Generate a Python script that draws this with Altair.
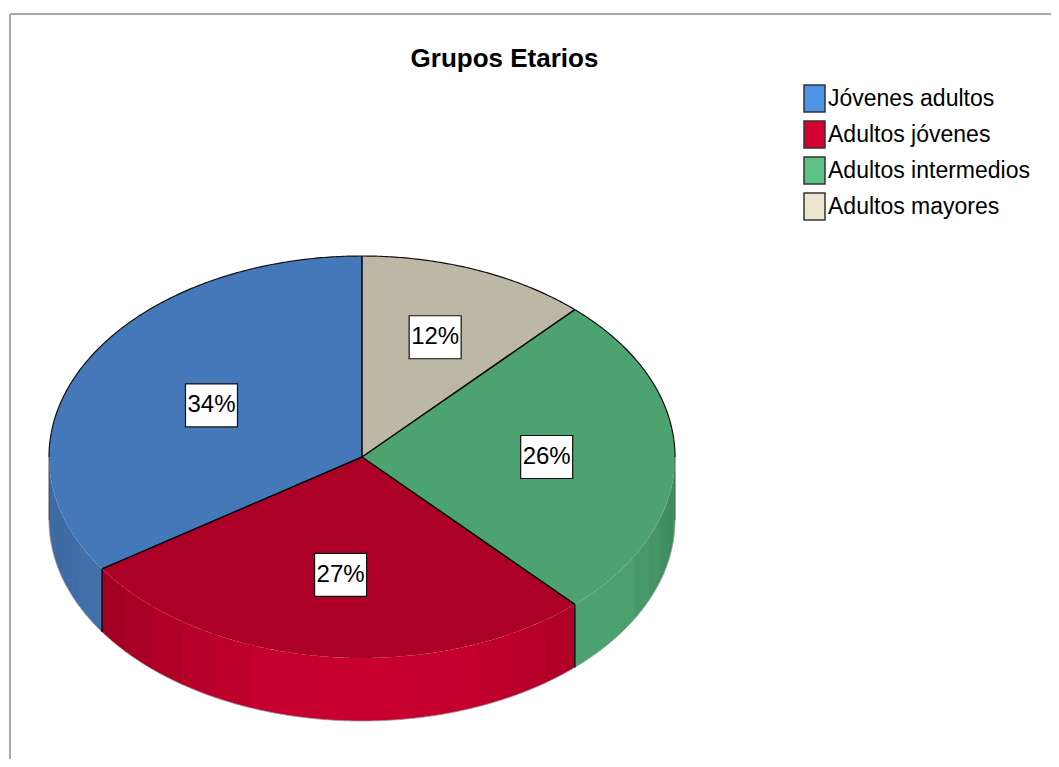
import numpy as np
import pandas as pd
import altair as alt

# --- values (clockwise from 12 o'clock) ---
slice_names = ["Adultos mayores", "Adultos intermedios", "Adultos jóvenes", "Jóvenes adultos"]
slice_values = [11.9, 26.2, 27.5, 34.4]
slice_labels = ["12%", "26%", "27%", "34%"]
slice_colors = ["#bdb7a5", "#4ca36f", "#ac0027", "#4478b9"]
label_reach = [0.64, 0.59, 0.59, 0.545]

legend_names = ["Jóvenes adultos", "Adultos jóvenes", "Adultos intermedios", "Adultos mayores"]
legend_colors = ["#4f93e6", "#d50032", "#5cc285", "#ece5d0"]

wall_shades = [
    [],
    ["#3d8a5d", "#3e8b5e", "#418e60", "#449465", "#48996a", "#4ba06d", "#4ca36f", "#4ca36f"],
    ["#b10028", "#b8002a", "#bf002c", "#c3002e", "#c6002f", "#c7002f", "#c7002f", "#c6002f",
     "#c3002e", "#bd002c", "#b7002a", "#b00027", "#a90025", "#a20023"],
    ["#4170ab", "#3f6ca6", "#3e6aa2", "#3d689d"],
]

TITLE = "Grupos Etarios"
W, H = 1043, 751
CX, CY, RX, RY, DEPTH = 362, 457, 313, 201, 63
FONT = "Liberation Sans"

def pt(deg, r=1.0, drop=0.0):
    a = np.radians(deg)
    return CX + RX * r * np.sin(a), CY - RY * r * np.cos(a) + drop

def spans(xs_poly, ys_poly):
    xs = np.unique(np.round(xs_poly, 3))
    rows = []
    n = len(xs_poly)
    for x in xs:
        hits = []
        for i in range(n):
            x1, y1, x2, y2 = xs_poly[i], ys_poly[i], xs_poly[(i + 1) % n], ys_poly[(i + 1) % n]
            lo, hi = min(x1, x2), max(x1, x2)
            if lo - 1e-3 <= x <= hi + 1e-3:
                if hi - lo < 1e-6:
                    hits += [y1, y2]
                else:
                    hits.append(y1 + (y2 - y1) * (x - x1) / (x2 - x1))
        rows.append((x, min(hits), max(hits)))
    return rows

edges = np.cumsum([0] + slice_values) * 3.6

area_rows, line_rows, label_rows = [], [], []
pid = 0

def add_line(pts, color, width):
    global pid
    for i, (x, y) in enumerate(pts):
        line_rows.append(dict(x=x, y=y, path=pid, i=i, stroke=color, w=width))
    pid += 1

# rim of the disc, one band per listed shade; neighbours overlap a little to hide seams
band = 0
for k, shades in enumerate(wall_shades):
    a0, a1 = max(edges[k], 90), min(edges[k + 1], 270)
    if not shades or a1 <= a0:
        continue
    cuts = np.linspace(a0, a1, len(shades) + 1)
    for j, shade in enumerate(shades):
        end = min(cuts[j + 1] + 0.4, a1)
        for t in np.linspace(cuts[j], end, 30):
            x, y = pt(t)
            area_rows.append(dict(x=x, y=y, y2=y + DEPTH, id=f"w{band:03d}", fill=shade))
        band += 1

# top face
for k, color in enumerate(slice_colors):
    ts = np.arange(edges[k], edges[k + 1] + 0.001, 0.4)
    ts = np.append(ts, edges[k + 1])
    px, py = pt(ts)
    px = np.append(px, CX)
    py = np.append(py, CY)
    for x, y, y2 in spans(px, py):
        area_rows.append(dict(x=x, y=y, y2=y2, id=f"t{k}", fill=color))
    mid = (edges[k] + edges[k + 1]) / 2
    lx, ly = pt(mid, label_reach[k])
    label_rows.append(dict(x=lx, y=ly, x0=lx - 26, x1=lx + 26, y0=ly - 21.5, y1=ly + 21.5, text=slice_labels[k]))

# outlines
ts = np.arange(-90, 90.01, 0.5)
add_line(list(zip(*pt(ts))), "#111111", 1.2)
ts = np.arange(90, 270.01, 0.5)
add_line(list(zip(*pt(ts, drop=DEPTH))), "#9a9a9a", 0.8)
add_line([pt(90), pt(90, drop=DEPTH)], "#555555", 1.0)
add_line([pt(270), pt(270, drop=DEPTH)], "#555555", 1.0)
for e in edges[:-1]:
    add_line([(CX, CY), pt(e)], "#000000", 1.5)
for e in edges[1:-1]:
    if 90 < e < 270:
        add_line([pt(e), pt(e, drop=DEPTH)], "#111111", 1.5)

x_scale = alt.Scale(domain=[8, 8 + W], nice=False, zero=False)
y_scale = alt.Scale(domain=[8 + H, 8], nice=False, zero=False)
x_enc = alt.X("x:Q", axis=None, scale=x_scale)
y_enc = alt.Y("y:Q", axis=None, scale=y_scale)

areas = alt.Chart(pd.DataFrame(area_rows)).mark_area(interpolate="linear").encode(
    x=x_enc, y=y_enc, y2="y2:Q",
    detail="id:N",
    fill=alt.Fill("fill:N", scale=None),
)

lines = alt.Chart(pd.DataFrame(line_rows)).mark_line().encode(
    x=x_enc, y=y_enc,
    detail="path:N",
    order=alt.Order("i:Q"),
    stroke=alt.Stroke("stroke:N", scale=None),
    strokeWidth=alt.StrokeWidth("w:Q", scale=None),
)

labels = pd.DataFrame(label_rows)
boxes = alt.Chart(labels).mark_rect(fill="white", stroke="#111111", strokeWidth=1.2).encode(
    x=alt.X("x0:Q", axis=None, scale=x_scale),
    x2="x1:Q",
    y=alt.Y("y0:Q", axis=None, scale=y_scale),
    y2="y1:Q",
)
texts = alt.Chart(labels).mark_text(font=FONT, fontSize=24, color="black", baseline="middle").encode(
    x=x_enc, y=y_enc, text="text:N"
)

legend_df = pd.DataFrame({"name": legend_names, "x": [CX] * 4, "y": [CY] * 4})
legend_layer = alt.Chart(legend_df).mark_square(size=0).encode(
    x=x_enc, y=y_enc,
    color=alt.Color(
        "name:N",
        scale=alt.Scale(domain=legend_names, range=legend_colors),
        legend=alt.Legend(
            title=None, orient="none", legendX=793, legendY=77,
            symbolType="M-0.84,-1.08H0.84V1.08H-0.84Z",
            symbolSize=625, symbolStrokeColor="#333333", symbolStrokeWidth=1.5,
            symbolOpacity=1,
            labelFont=FONT, labelFontSize=23, labelColor="black", labelOffset=0,
            labelLimit=300, rowPadding=3,
        ),
    ),
)

frame_left = alt.Chart(legend_df).mark_rule(color="#aaaaaa", strokeWidth=2).encode(
    x=alt.value(2), y=alt.value(6), y2=alt.value(H)
)
frame_top = alt.Chart(legend_df).mark_rule(color="#aaaaaa", strokeWidth=2).encode(
    x=alt.value(2), x2=alt.value(W), y=alt.value(6)
)

chart = alt.layer(frame_left, frame_top, areas, lines, boxes, texts, legend_layer).properties(
    width=W, height=H, padding=0,
    autosize=alt.AutoSizeParams(type="none"),
    background="white",
    title=alt.TitleParams(
        TITLE, font=FONT, fontSize=26, fontWeight="bold", color="black",
        anchor="middle", dx=-25, offset=-90, baseline="bottom",
    ),
).configure_view(stroke=None)

chart.save("out.html", embed_options={"renderer": "svg", "actions": False})
